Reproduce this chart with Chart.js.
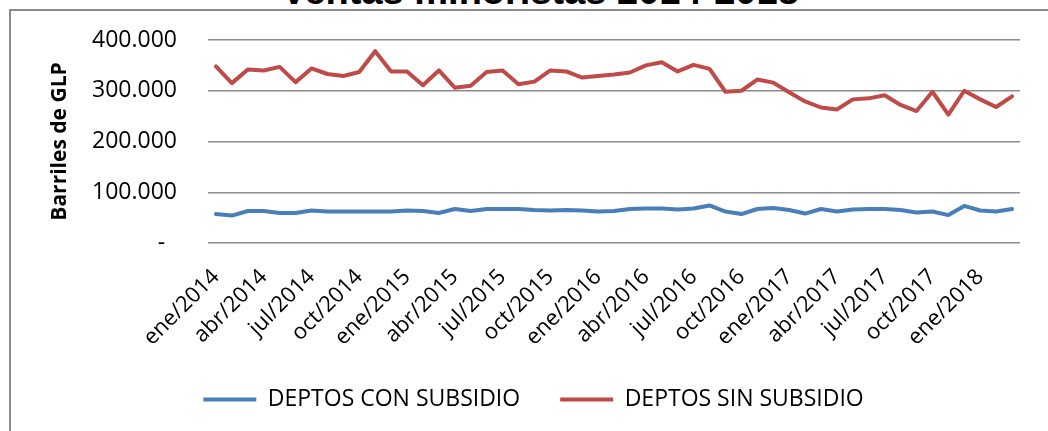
<!DOCTYPE html>
<html>
<head>
<meta charset="utf-8">
<script src="https://cdn.jsdelivr.net/npm/chart.js@4.4.1/dist/chart.umd.min.js"></script>
<style>
    html, body { margin: 0; padding: 0; background: #fff; overflow: hidden; width: 1048px; height: 431px; }
    #frame { position: absolute; left: 9px; top: 9px; width: 1100px; height: 500px; border-left: 2px solid #8c8c8c; border-top: 2px solid #8c8c8c; }
    #titulo { position: absolute; left: 10px; top: -28px; width: 1060px; text-align: center; font: bold 38px "Liberation Sans", Arial, sans-serif; line-height: 38px; color: #000; white-space: nowrap; }
    #box { position: absolute; left: 10px; top: 10px; width: 1060px; height: 421px; }
</style>
</head>
<body>
<div id="frame"></div>
<div id="titulo">Ventas minoristas 2014-2018</div>
<div id="box"><canvas id="canvas"></canvas></div>
<script>
var meses = [
    "ene/2014", "feb/2014", "mar/2014", "abr/2014", "may/2014", "jun/2014", "jul/2014", "ago/2014", "sep/2014", "oct/2014", "nov/2014", "dic/2014",
    "ene/2015", "feb/2015", "mar/2015", "abr/2015", "may/2015", "jun/2015", "jul/2015", "ago/2015", "sep/2015", "oct/2015", "nov/2015", "dic/2015",
    "ene/2016", "feb/2016", "mar/2016", "abr/2016", "may/2016", "jun/2016", "jul/2016", "ago/2016", "sep/2016", "oct/2016", "nov/2016", "dic/2016",
    "ene/2017", "feb/2017", "mar/2017", "abr/2017", "may/2017", "jun/2017", "jul/2017", "ago/2017", "sep/2017", "oct/2017", "nov/2017", "dic/2017",
    "ene/2018", "feb/2018", "mar/2018"
];

// barriles por mes
var conSubsidio = [
    57000, 54000, 63000, 63000, 59000, 59000, 64000, 62000, 62000, 62000, 62000, 62000,
    64000, 63000, 59000, 67000, 63000, 67000, 67000, 67000, 65000, 64000, 65000, 64000,
    62000, 63000, 67000, 68000, 68000, 66000, 68000, 74000, 62000, 57000, 67000, 69000,
    65000, 58000, 67000, 62000, 66000, 67000, 67000, 65000, 60000, 62000, 55000, 73000,
    64000, 62000, 67000
];
var sinSubsidio = [
    348000, 315000, 342000, 340000, 347000, 317000, 344000, 333000, 329000, 337000, 378000, 338000,
    338000, 311000, 340000, 306000, 310000, 337000, 340000, 313000, 318000, 340000, 338000, 326000,
    329000, 332000, 336000, 350000, 356000, 338000, 351000, 343000, 298000, 300000, 322000, 316000,
    297000, 279000, 267000, 263000, 283000, 285000, 291000, 272000, 260000, 298000, 253000, 300000,
    283000, 268000, 289000
];
var ticksY = [0, 100000, 200000, 300000, 400000];

var fuente = "'Open Sans', 'Liberation Sans', sans-serif";

function etiquetaY(v) {
    if (v == 0) return "-  ";
    return (v / 1000) + ".000";
}

var ctx = document.getElementById("canvas").getContext("2d");
var pChart = new Chart(ctx, {
    type: 'line',
    data: {
        labels: meses,
        datasets: [{
            label: "DEPTOS CON SUBSIDIO",
            data: conSubsidio,
            borderColor: "#4A7EBB",
            backgroundColor: "#4A7EBB",
            borderWidth: 4,
            borderCapStyle: 'round',
            borderJoinStyle: 'round',
            pointRadius: 0,
            tension: 0
        }, {
            label: "DEPTOS SIN SUBSIDIO",
            data: sinSubsidio,
            borderColor: "#BE4B48",
            backgroundColor: "#BE4B48",
            borderWidth: 4,
            borderCapStyle: 'round',
            borderJoinStyle: 'round',
            pointRadius: 0,
            tension: 0
        }]
    },
    options: {
        responsive: true,
        maintainAspectRatio: false,
        animation: false,
        layout: {
            padding: { left: 37, right: 50, top: 30, bottom: 10 }
        },
        plugins: {
            title: { display: false },
            tooltip: { enabled: false },
            legend: {
                position: 'bottom',
                labels: {
                    usePointStyle: true,
                    pointStyle: 'line',
                    pointStyleWidth: 53,
                    padding: 40,
                    color: '#000',
                    font: { family: fuente, size: 23 }
                }
            }
        },
        scales: {
            x: {
                offset: true,
                grid: { display: false },
                border: { display: false },
                afterFit: function (scale) {
                    scale.height = 105;
                },
                ticks: {
                    autoSkip: false,
                    maxRotation: 45,
                    minRotation: 45,
                    padding: 13,
                    color: '#000',
                    font: { family: fuente, size: 22 },
                    callback: function (val, i) {
                        return i % 3 == 0 ? meses[i] : '';
                    }
                }
            },
            y: {
                min: 0,
                max: 400000,
                afterBuildTicks: function (scale) {
                    scale.ticks = ticksY.map(function (v) { return { value: v }; });
                },
                afterFit: function (scale) {
                    scale.width = 161;
                    scale.paddingTop = 0;
                    scale.paddingBottom = 0;
                },
                grid: { color: '#8c8c8c', lineWidth: 1.5, drawTicks: false },
                border: { display: false },
                ticks: {
                    padding: 31,
                    color: '#000',
                    font: { family: fuente, size: 23 },
                    callback: etiquetaY
                },
                title: {
                    display: true,
                    text: 'Barriles de GLP',
                    color: '#000',
                    padding: { top: 0, bottom: 0 },
                    font: { family: fuente, size: 21, weight: 'bold' }
                }
            }
        }
    }
});
</script>
</body>
</html>
